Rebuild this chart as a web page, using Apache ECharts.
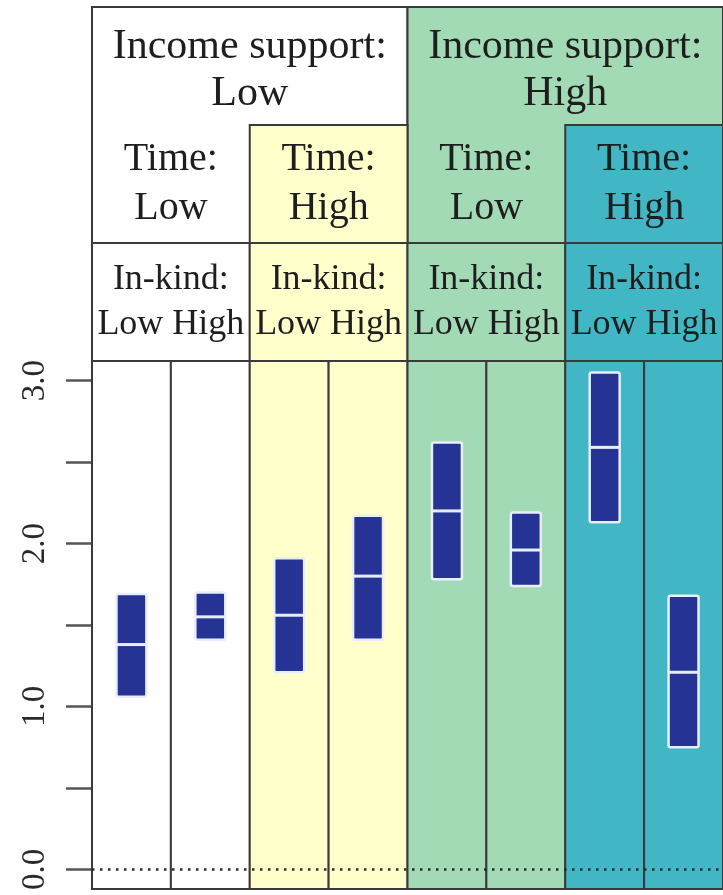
<!DOCTYPE html>
<html>
<head>
<meta charset="utf-8">
<script src="https://cdn.jsdelivr.net/npm/echarts@6/dist/echarts.min.js"></script>
<style>
html,body{margin:0;padding:0;background:#fff;}
#chart{width:723px;height:895px;}
</style>
</head>
<body>
<div id="chart"></div>
<script>
// ---- data ----
const incomeLevels = ['Low', 'Low', 'Low', 'Low', 'High', 'High', 'High', 'High'];
const timeLevels   = ['Low', 'Low', 'High', 'High', 'Low', 'Low', 'High', 'High'];
const inkindLevels = ['Low', 'High', 'Low', 'High', 'Low', 'High', 'Low', 'High'];
const lower  = [1.06, 1.41, 1.21, 1.41, 1.78, 1.74, 2.13, 0.75];
const median = [1.38, 1.55, 1.56, 1.80, 2.20, 1.96, 2.59, 1.21];
const upper  = [1.69, 1.70, 1.91, 2.17, 2.62, 2.19, 3.05, 1.68];
const yTickValues  = [0, 0.5, 1, 1.5, 2, 2.5, 3];
const yLabelValues = [0, 1, 2, 3];

// ---- styling ----
const groupColor = {
  'Low|Low': '#FFFFFF', 'Low|High': '#FFFFCC',
  'High|Low': '#A1DAB4', 'High|High': '#41B6C4'
};
const incomeColor = { 'Low': '#FFFFFF', 'High': '#A1DAB4' };
const FONT = '"Liberation Serif", "DejaVu Serif", serif';
const BORDER = '#3a3a3a';

// header cells built from the level arrays
const headerCells = [];
['Low', 'High'].forEach(lv => {
  const idx = incomeLevels.map((v, i) => v === lv ? i : -1).filter(i => i >= 0);
  headerCells.push({x0: idx[0], x1: idx[idx.length - 1] + 1, r0: 0, r1: 2, fill: incomeColor[lv],
    text: 'Income support:\n' + lv, textRow: 0, size: 42, lh: 47, dy: 4});
});
for (let i = 0; i < 8; i += 2) {
  const key = incomeLevels[i] + '|' + timeLevels[i];
  headerCells.push({x0: i, x1: i + 2, r0: 1, r1: 2, fill: timeLevels[i] === 'High' ? groupColor[key] : null,
    text: 'Time:\n' + timeLevels[i], textRow: 1, size: 40, lh: 49, dy: 0});
}
for (let i = 0; i < 8; i += 2) {
  const key = incomeLevels[i] + '|' + timeLevels[i];
  headerCells.push({x0: i, x1: i + 2, r0: 2, r1: 3, fill: groupColor[key],
    text: 'In-kind:\n' + inkindLevels[i] + ' ' + inkindLevels[i + 1], textRow: 2, size: 36, lh: 45, dy: 0});
}

const chart = echarts.init(document.getElementById('chart'), null, {renderer: 'canvas'});

const option = {
  animation: false,
  backgroundColor: '#fff',
  grid: [
    {left: 92, right: 0, top: 361, bottom: 6},
    {left: 92, right: 0, top: 7, height: 354}
  ],
  xAxis: [
    {gridIndex: 0, type: 'value', min: 0, max: 8, show: false},
    {gridIndex: 1, type: 'value', min: 0, max: 8, show: false}
  ],
  yAxis: [
    {
      gridIndex: 0, type: 'value', min: -0.12, max: 3.12,
      axisLine: {show: false},
      splitLine: {show: false},
      axisTick: {show: true, customValues: yTickValues, length: 26, lineStyle: {color: '#555', width: 2.5}},
      axisLabel: {
        show: true, customValues: yLabelValues, rotate: 90, margin: 40,
        formatter: v => v.toFixed(1),
        fontFamily: FONT, fontSize: 33, color: '#2a2a2a'
      }
    },
    {gridIndex: 1, type: 'value', min: 0, max: 3, inverse: true, show: false}
  ],
  series: [
    {
      type: 'custom', xAxisIndex: 0, yAxisIndex: 0, z: 1, silent: true,
      data: incomeLevels.map((v, i) => [i]),
      renderItem: function (params, api) {
        const i = api.value(0);
        const a = api.coord([i, 3.12]);
        const b = api.coord([i + 1, -0.12]);
        return {
          type: 'rect',
          shape: {x: a[0], y: a[1], width: b[0] - a[0], height: b[1] - a[1]},
          style: {fill: groupColor[incomeLevels[i] + '|' + timeLevels[i]], stroke: BORDER, lineWidth: 2}
        };
      }
    },
    {
      type: 'line', xAxisIndex: 0, yAxisIndex: 0, z: 2, silent: true,
      data: [[0, 0], [8, 0]], symbol: 'none',
      lineStyle: {color: '#2a2a2a', width: 2.5, type: [2.5, 5.5]}
    },
    {
      type: 'custom', xAxisIndex: 0, yAxisIndex: 0, z: 3, silent: true,
      data: lower.map((lo, i) => [i, lo, median[i], upper[i]]),
      renderItem: function (params, api) {
        const x = api.value(0) + 0.5;
        const top = api.coord([x, api.value(3)]);
        const bot = api.coord([x, api.value(1)]);
        const mid = api.coord([x, api.value(2)]);
        const w = api.size([1, 0])[0] * 0.38;
        return {
          type: 'group',
          children: [
            {type: 'rect', shape: {x: top[0] - w / 2, y: top[1], width: w, height: bot[1] - top[1], r: 2},
             style: {fill: '#253494', stroke: '#E8EEFF', lineWidth: 2.5}},
            {type: 'line', shape: {x1: top[0] - w / 2, y1: mid[1], x2: top[0] + w / 2, y2: mid[1]},
             style: {stroke: '#E8EEFF', lineWidth: 3}}
          ]
        };
      }
    },
    {
      type: 'custom', xAxisIndex: 1, yAxisIndex: 1, z: 1, silent: true,
      data: headerCells.map((c, i) => [c.x0, c.x1, c.r0, c.r1, i]),
      renderItem: function (params, api) {
        const c = headerCells[api.value(4)];
        const a = api.coord([c.x0, c.r0]);
        const b = api.coord([c.x1, c.r1]);
        const t0 = api.coord([(c.x0 + c.x1) / 2, c.textRow + 0.5]);
        const children = [];
        if (c.fill) {
          children.push({type: 'rect', shape: {x: a[0], y: a[1], width: b[0] - a[0], height: b[1] - a[1]},
            style: {fill: c.fill, stroke: BORDER, lineWidth: 2}});
        }
        children.push({type: 'text', style: {
          text: c.text, x: t0[0], y: t0[1] + c.dy, align: 'center', verticalAlign: 'middle',
          fontFamily: FONT, fontSize: c.size, lineHeight: c.lh, fill: '#1e1e1e'
        }, z2: 10});
        return {type: 'group', children: children};
      }
    }
  ]
};
chart.setOption(option);
</script>
</body>
</html>
